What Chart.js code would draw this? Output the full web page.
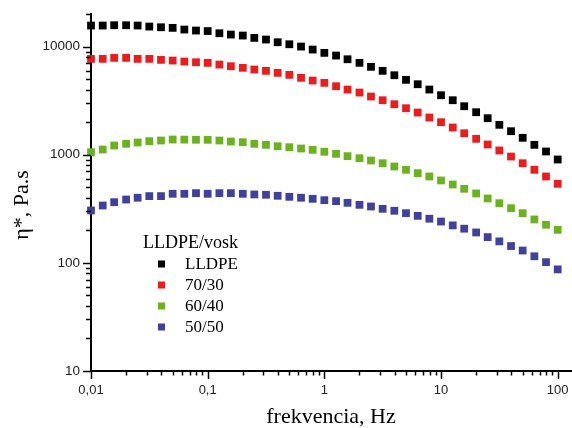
<!DOCTYPE html>
<html>
<head>
<meta charset="utf-8">
<script src="https://cdn.jsdelivr.net/npm/chart.js@4/dist/chart.umd.min.js"></script>
<style>
  html, body { margin: 0; padding: 0; background: #fff; }
  #wrap { width: 572px; height: 428px; }
</style>
</head>
<body>
<div id="wrap"><canvas id="c" width="572" height="428"></canvas></div>
<script>
// Frequencies (Hz)
const freq = [0.01,0.0126,0.0158,0.02,0.0251,0.0316,0.0398,0.0501,0.0631,0.0794,
  0.1,0.126,0.158,0.2,0.251,0.316,0.398,0.501,0.631,0.794,
  1,1.26,1.58,2,2.51,3.16,3.98,5.01,6.31,7.94,
  10,12.6,15.8,20,25.1,31.6,39.8,50.1,63.1,79.4,100];

// Complex viscosity η* (Pa.s)
const lldpe = [15640,15640,15740,15740,15640,15300,15080,14890,14360,14060,
  13910,13270,12910,12640,12030,11610,10960,10500,10000,9380,
  8745,8256,7630,7070,6494,5963,5429,4923,4483,4005,
  3547,3189,2807,2471,2175,1889,1649,1433,1234,1071,903];
const s7030 = [7695,7695,7862,7862,7695,7695,7535,7423,7266,7158,
  7068,6816,6576,6357,6131,5963,5714,5475,5137,4851,
  4619,4297,4005,3757,3451,3189,2929,2691,2455,2207,
  1997,1784,1580,1403,1243,1094,962,834,725,629,538];
const s6040 = [1055,1117,1216,1261,1297,1333,1353,1382,1378,1375,
  1373,1353,1324,1305,1261,1234,1198,1173,1141,1110,
  1064,1019,969,928,884,834,778,725,675,629,
  578,530,484,438,394,356,320,288,252,225,202];
const s5050 = [305,339,364,385,400,414,414,435,435,441,
  435,441,441,435,429,426,417,408,400,391,
  380,372,359,344,332,316,303,288,272,256,
  241,222,207,191,173,158,143,130,115,101.5,87];

const seriesNames = ['LLDPE','70/30','60/40','50/50'];
const seriesColors = ['#000000','#EC1C1C','#6AB31E','#40419A'];
const legendTitle = 'LLDPE/vosk';
const xTitle = 'frekvencia, Hz';
const yTitle = 'η*, Pa.s';
const xTickValues = [0.01,0.1,1,10,100];
const xTickLabels = ['0,01','0,1','1','10','100'];
const yTickValues = [10,100,1000,10000];
const yTickLabels = ['10','100','1000','10000'];

const allSeries = [lldpe, s7030, s6040, s5050];
const datasets = allSeries.map((arr, i) => ({
  label: seriesNames[i],
  data: freq.map((f, j) => ({x: f, y: arr[j]})),
  backgroundColor: seriesColors[i],
  borderColor: seriesColors[i],
  pointStyle: 'rect',
  pointRadius: 5.5,
  pointBorderWidth: 0,
  pointHoverRadius: 5.5,
  showLine: false,
  clip: false
}));

function minorTicks(min, max) {
  const out = [];
  let d = Math.pow(10, Math.floor(Math.log10(min)));
  while (d <= max) {
    for (let k = 1; k <= 9; k++) {
      const v = +(k * d).toPrecision(6);
      if (v >= min * 0.9999 && v <= max * 1.0001) out.push({v, major: k === 1});
    }
    d *= 10;
  }
  return out;
}

const decorPlugin = {
  id: 'decor',
  afterDraw(chart) {
    const ctx = chart.ctx;
    const xs = chart.scales.x, ys = chart.scales.y;
    const area = chart.chartArea;
    ctx.save();
    ctx.strokeStyle = '#000';
    ctx.lineWidth = 1.5;
    minorTicks(xs.min, xs.max).forEach(t => {
      const px = Math.round(xs.getPixelForValue(t.v)) + 0.5;
      const len = t.major ? 8 : 4.5;
      ctx.beginPath();
      ctx.moveTo(px, area.bottom);
      ctx.lineTo(px, area.bottom + len);
      ctx.stroke();
    });
    minorTicks(ys.min, ys.max).forEach(t => {
      const py = Math.round(ys.getPixelForValue(t.v)) + 0.5;
      const len = t.major ? 8 : 5;
      ctx.beginPath();
      ctx.moveTo(area.left, py);
      ctx.lineTo(area.left - len, py);
      ctx.stroke();
    });
    ctx.fillStyle = '#000';
    ctx.font = '22px "Liberation Serif", "Times New Roman", serif';
    ctx.textAlign = 'center';
    ctx.textBaseline = 'alphabetic';
    ctx.fillText(xTitle, (area.left + area.right) / 2, 423);
    ctx.save();
    ctx.translate(28, 205);
    ctx.rotate(-Math.PI / 2);
    ctx.fillText(yTitle, 0, 0);
    ctx.restore();
    ctx.textAlign = 'left';
    ctx.textBaseline = 'middle';
    ctx.font = '18px "Liberation Serif", "Times New Roman", serif';
    ctx.fillText(legendTitle, 143, 243);
    ctx.font = '17px "Liberation Serif", "Times New Roman", serif';
    chart.data.datasets.forEach((ds, i) => {
      const y = 264 + i * 21;
      ctx.fillStyle = ds.backgroundColor;
      ctx.fillRect(158, y - 3.5, 7, 7);
      ctx.fillStyle = '#000';
      ctx.fillText(ds.label, 185, y + 1);
    });
    ctx.restore();
  }
};

new Chart(document.getElementById('c'), {
  type: 'scatter',
  data: { datasets },
  plugins: [decorPlugin],
  options: {
    responsive: false,
    animation: false,
    events: [],
    layout: { autoPadding: false, padding: { top: 14, right: 1, left: 0, bottom: 0 } },
    plugins: { legend: { display: false }, tooltip: { enabled: false } },
    scales: {
      x: {
        type: 'logarithmic',
        min: 0.01,
        max: 130,
        afterFit(s) { s.height = 57; s.paddingLeft = 0; s.paddingRight = 0; },
        afterBuildTicks(s) { s.ticks = xTickValues.map(v => ({value: v})); },
        grid: { display: true, drawOnChartArea: false, drawTicks: false },
        border: { display: true, color: '#000', width: 2 },
        ticks: {
          autoSkip: false,
          maxRotation: 0,
          padding: 12,
          color: '#222',
          font: { family: '"Liberation Sans", Arial, sans-serif', size: 13 },
          callback(v) { const i = xTickValues.indexOf(v); return i >= 0 ? xTickLabels[i] : ''; }
        }
      },
      y: {
        type: 'logarithmic',
        min: 10,
        max: 20000,
        afterFit(s) { s.width = 91; s.paddingTop = 0; s.paddingBottom = 0; },
        afterBuildTicks(s) { s.ticks = yTickValues.map(v => ({value: v})); },
        grid: { display: true, drawOnChartArea: false, drawTicks: false },
        border: { display: true, color: '#000', width: 2 },
        ticks: {
          autoSkip: false,
          padding: 11,
          color: '#222',
          font: { family: '"Liberation Sans", Arial, sans-serif', size: 13.5 },
          callback(v) { const i = yTickValues.indexOf(v); return i >= 0 ? yTickLabels[i] : ''; }
        }
      }
    }
  }
});
</script>
</body>
</html>
